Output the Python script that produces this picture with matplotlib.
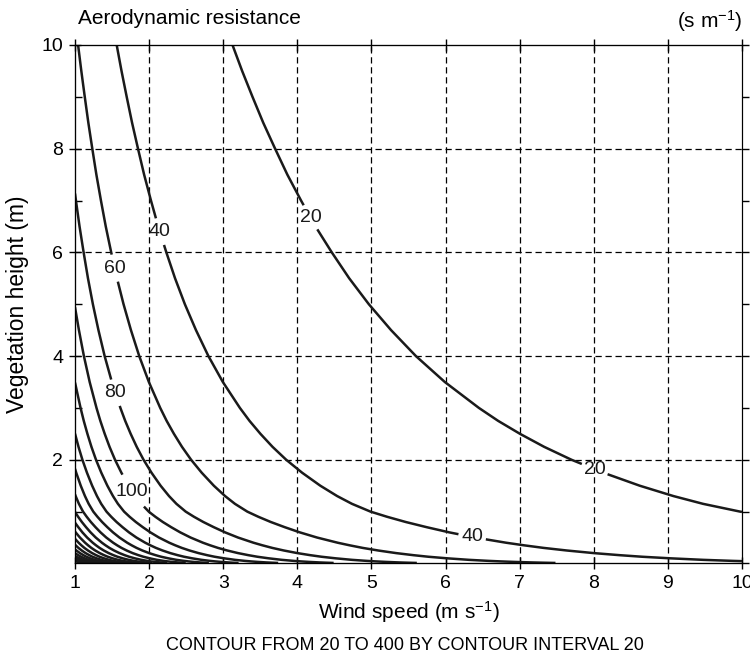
import numpy as np
import matplotlib
matplotlib.use("Agg")
import matplotlib.pyplot as plt

plt.rcParams['font.family'] = ['Liberation Sans', 'DejaVu Sans']
plt.rcParams['mathtext.fontset'] = 'custom'
plt.rcParams['mathtext.rm'] = 'Liberation Sans'
plt.rcParams['mathtext.it'] = 'Liberation Sans'

# resistance at 1 m/s (s/m), per vegetation height (m)
heights = np.array([0.01, 0.015, 0.02, 0.03, 0.04, 0.05, 0.07, 0.1, 0.13, 0.16,
                    0.2, 0.25, 0.3, 0.35, 0.4, 0.5, 0.6, 0.7, 0.8, 0.9,
                    1.0, 1.15, 1.3, 1.5, 1.75, 2.0, 2.25, 2.5, 2.75, 3.0,
                    3.5, 4.0, 4.5, 5.0, 5.5, 6.0, 6.5, 7.0, 7.5, 8.0,
                    8.5, 9.0, 9.5, 10.0])
res_at_1ms = np.array([449, 439, 430, 416, 404.6, 395, 379, 361, 346, 334,
                       320, 305.5, 293, 282.4, 272.7, 256, 242, 229.8, 218.5, 208.5,
                       199.5, 189.5, 181.5, 172.4, 162.6, 154, 146.6, 140.1, 134.2, 129,
                       119.8, 112, 105.3, 99.3, 94, 89.3, 84.9, 81, 77.3, 74,
                       70.8, 67.9, 65.1, 62.5])
levels = np.arange(20, 401, 20)

# where the contour labels sit
label_levels = [20, 40, 60, 80, 100]
label_pos = [(4.17, 6.67), (7.99, 1.74), (2.17, 6.41), (6.35, 0.45),
             (1.55, 5.70), (1.54, 3.29), (1.77, 1.39)]

wind = np.linspace(1, 10, 361)
Z = res_at_1ms[:, None] / wind[None, :]

fig = plt.figure(figsize=(7.5, 6.64), dpi=100)
ax = fig.add_axes([0.1, 0.1514, 0.8893, 0.7809])

for v in range(2, 10):
    ax.axvline(v, color='black', lw=0.9, ls=(0, (5, 3)), zorder=1)
for v in range(2, 10, 2):
    ax.axhline(v, color='black', lw=0.9, ls=(0, (5, 3)), zorder=1)

cs = ax.contour(wind, heights, Z, levels=levels, colors='#1a1a1a',
                linewidths=1.8, zorder=2)
lbl = ax.clabel(cs, label_levels, inline=True, fontsize=14,
                fmt='%d', manual=label_pos, inline_spacing=3)
for t in lbl:
    t.set_rotation(0)

ax.set_xlim(1, 10)
ax.set_ylim(0, 10)
ax.set_xticks(range(1, 11))
ax.set_yticks([2, 4, 6, 8, 10])
ax.set_yticks([1, 3, 5, 7, 9], minor=True)
ax.tick_params(axis='both', which='major', direction='inout', length=9,
               width=1, labelsize=14, pad=4)
ax.tick_params(axis='y', which='minor', direction='in', length=5, width=1)
ax.spines['right'].set_visible(False)

# right axis: outward ticks every metre
axr = ax.twinx()
axr.set_ylim(0, 10)
axr.set_yticks(range(0, 11))
axr.tick_params(axis='y', direction='out', length=5, width=1, labelright=False)
# top axis: crossing ticks
axt = ax.twiny()
axt.set_xlim(1, 10)
axt.set_xticks(range(1, 11))
axt.tick_params(axis='x', direction='inout', length=9, width=1, labeltop=False)

ax.set_xlabel(r'Wind speed (m s$^{-1}$)', fontsize=15, labelpad=5)
ax.set_ylabel('Vegetation height (m)', fontsize=16.5, va='center')
ax.yaxis.set_label_coords(-0.086, 0.5)

fig.text(0.104, 0.972, 'Aerodynamic resistance', fontsize=15, va='center')
fig.text(0.99, 0.968, r'(s m$^{-1}$)', fontsize=15, va='center', ha='right')
fig.text(0.54, 0.028, 'CONTOUR FROM 20 TO 400 BY CONTOUR INTERVAL 20',
         fontsize=13, ha='center', va='center')

fig.savefig('out.png', dpi=100)
